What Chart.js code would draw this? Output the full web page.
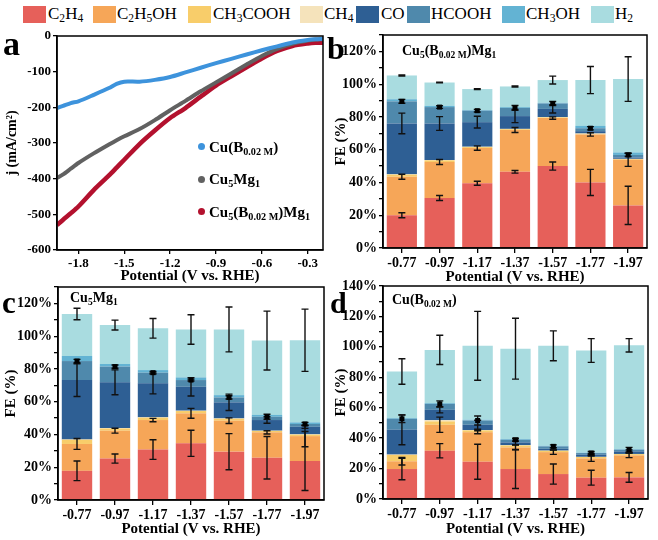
<!DOCTYPE html>
<html>
<head>
<meta charset="utf-8">
<title>FE and LSV</title>
<script src="https://cdn.jsdelivr.net/npm/chart.js@4.4.1/dist/chart.umd.min.js"></script>
<style>
body { margin: 0; background: #fff; }
#wrap { position: relative; width: 658px; height: 540px; overflow: hidden; font-family: "Liberation Serif", "Times New Roman", serif; color: #000; }
#wrap canvas { position: absolute; }
.txt { position: absolute; white-space: nowrap; line-height: 1; }
.txt sub { font-size: 0.68em; vertical-align: -0.28em; line-height: 0; }
.key { position: absolute; top: 6px; width: 23px; height: 17px; }
.dot { position: absolute; width: 7px; height: 7px; border-radius: 50%; }
</style>
</head>
<body>
<div id="wrap">
  <canvas id="cA" width="330" height="260" style="left:0;top:28px"></canvas>
  <canvas id="cB" width="328" height="260" style="left:330px;top:28px"></canvas>
  <canvas id="cC" width="330" height="260" style="left:0;top:280px"></canvas>
  <canvas id="cD" width="328" height="260" style="left:330px;top:280px"></canvas>

  <div class="txt" style="left:3px;top:27px;font-size:34px;font-weight:bold">a</div>
  <div class="txt" style="left:327px;top:32px;font-size:32px;font-weight:bold">b</div>
  <div class="txt" style="left:2px;top:287px;font-size:31px;font-weight:bold">c</div>
  <div class="txt" style="left:330px;top:288px;font-size:30px;font-weight:bold">d</div>

  <div class="txt" style="left:402px;top:44px;font-size:14px;font-weight:bold">Cu<sub>5</sub>(B<sub>0.02 M</sub>)Mg<sub>1</sub></div>
  <div class="txt" style="left:70px;top:291px;font-size:14px;font-weight:bold">Cu<sub>5</sub>Mg<sub>1</sub></div>
  <div class="txt" style="left:392px;top:293px;font-size:14px;font-weight:bold">Cu(B<sub>0.02 M</sub>)</div>

  <div class="dot" style="left:198px;top:143px;background:#3d93dc"></div>
  <div class="txt" style="left:209px;top:140px;font-size:15px;font-weight:bold">Cu(B<sub>0.02 M</sub>)</div>
  <div class="dot" style="left:198px;top:176px;background:#616161"></div>
  <div class="txt" style="left:209px;top:172px;font-size:15px;font-weight:bold">Cu<sub>5</sub>Mg<sub>1</sub></div>
  <div class="dot" style="left:198px;top:208px;background:#b3112e"></div>
  <div class="txt" style="left:209px;top:205px;font-size:15px;font-weight:bold">Cu<sub>5</sub>(B<sub>0.02 M</sub>)Mg<sub>1</sub></div>
</div>

<script>
// products, bottom to top of each stack
var species = ['C2H4', 'C2H5OH', 'CH3COOH', 'CH4', 'CO', 'HCOOH', 'CH3OH', 'H2'];
var speciesHtml = ['C<sub>2</sub>H<sub>4</sub>', 'C<sub>2</sub>H<sub>5</sub>OH', 'CH<sub>3</sub>COOH', 'CH<sub>4</sub>',
                   'CO', 'HCOOH', 'CH<sub>3</sub>OH', 'H<sub>2</sub>'];
var seriesColors = ['#e6605a', '#f6a658', '#f8cd6a', '#f5e3bb', '#2e5f94', '#4f89ac', '#63b3d3', '#a9dce0'];

var potentials = ['-0.77', '-0.97', '-1.17', '-1.37', '-1.57', '-1.77', '-1.97'];

// panel b : Cu5(B0.02M)Mg1, FE %
var bC2H4    = [20, 30.5, 39.5, 46.5, 50, 40, 26];
var bC2H5OH  = [23.5, 22, 21.5, 25.5, 29.3, 29.3, 27.8];
var bCH3COOH = [1.3, 1, 0.6, 0.5, 0.4, 0.4, 0.4];
var bCH4     = [0.2, 0.2, 0.2, 0.2, 0.2, 0.2, 0.2];
var bCO      = [31, 22.3, 15, 7.8, 5, 1.4, 0.8];
var bHCOOH   = [13.5, 10, 7, 5, 3.3, 1.8, 1.6];
var bCH3OH   = [1.3, 0.8, 0.4, 0.5, 0.4, 1.4, 1.5];
var bH2      = [14.5, 14.2, 12.8, 12.6, 13.9, 28, 44.8];
var bC2H4Err   = [1.5, 1.5, 1.2, 0.8, 2.5, 8, 11.7];
var bC2H5OHErr = [1.5, 1.5, 1.3, 1.5, 0.7, 1, 4];
var bCOErr     = [6.3, 4.2, 3.6, 4, 2.5, 0, 0];
var bHCOOHErr  = [1.2, 0.8, 0.8, 1.5, 1.2, 1, 1];
var bH2Err     = [0.3, 0.2, 0.3, 0.3, 2.4, 8.3, 13.6];

// panel c : Cu5Mg1
var cC2H4    = [17.8, 25.3, 30.8, 34.6, 29.5, 25.8, 23.8];
var cC2H5OH  = [16.4, 17, 18, 18.3, 18.9, 15.5, 15.2];
var cCH3COOH = [2.6, 1.4, 1.5, 1.4, 1.2, 0.8, 0.9];
var cCH4     = [0.2, 0.2, 0.2, 0.2, 0.2, 0.2, 0.2];
var cCO      = [36.2, 27.9, 20.7, 14.6, 9.8, 6.5, 4.6];
var cHCOOH   = [11.6, 9.6, 6.5, 4.1, 3, 2, 1.7];
var cCH3OH   = [3.1, 1.6, 1.6, 1.6, 1.4, 1.1, 1];
var cH2      = [25.6, 23.8, 25.5, 29.3, 40.1, 45.4, 50.1];
var cC2H4Err   = [6, 2.8, 6, 8, 11, 13, 18];
var cC2H5OHErr = [3.3, 1.5, 1, 3, 1.7, 1, 6.5];
var cCOErr     = [10, 7.6, 6.4, 5.6, 5, 2, 1];
var cHCOOHErr  = [1, 1, 0.8, 0.6, 1, 1.5, 1];
var cH2Err     = [3.5, 3, 6, 9, 13.7, 18, 19];

// panel d : Cu(B0.02M)
var dC2H4    = [19.7, 31.7, 24.5, 19.7, 16.4, 14, 14.2];
var dC2H5OH  = [5.1, 17.1, 19.4, 14.2, 14.4, 12.7, 14.5];
var dCH3COOH = [4.2, 2.2, 1.2, 1.3, 0.9, 0.9, 0.8];
var dCH4     = [0.2, 0.8, 0.2, 0.2, 0.1, 0.1, 0.1];
var dCO      = [16.3, 6.8, 3.5, 1.8, 1.2, 1.4, 1.7];
var dHCOOH   = [7.2, 3.9, 2.8, 1.7, 1.6, 1.1, 1.1];
var dCH3OH   = [0.5, 0.5, 0.5, 0.5, 0.4, 0.3, 0.4];
var dH2      = [30.6, 35, 48.6, 59.4, 65.7, 67.1, 68.2];
var dC2H4Err   = [7, 4.7, 11.5, 12.8, 6.6, 4.9, 3.2];
var dC2H5OHErr = [2.5, 5, 1, 1.5, 1.5, 2, 1.5];
var dCOErr     = [9.8, 2, 3, 1.5, 0.8, 0.8, 1];
var dHCOOHErr  = [2.5, 2, 3, 1, 1, 1, 1.5];
var dH2Err     = [8.4, 9.6, 22.6, 20, 9.8, 7.8, 4.4];

// panel a : LSV, j (mA/cm2) vs potential (V vs RHE)
var potA  = [-1.94, -1.9, -1.85, -1.8, -1.7, -1.6, -1.55, -1.5, -1.4, -1.3, -1.2, -1.1, -1.0, -0.9, -0.8, -0.7, -0.6, -0.5, -0.4, -0.3, -0.25, -0.2];
var jCuB  = [-202, -196, -188, -183, -165, -146, -134, -128, -128, -123, -115, -102, -89, -76, -64, -52, -40, -29, -18, -11, -9, -8];
var jCuMg = [-398, -388, -372, -356, -329, -304, -292, -281, -261, -236, -208, -182, -155, -130, -105, -80, -56, -36, -22, -13, -10, -9];
var jCuBMg = [-530, -515, -497, -478, -432, -391, -369, -347, -303, -265, -230, -202, -170, -139, -113, -88, -63, -42, -28, -21, -19, -19];
var xTicksA = [-1.8, -1.5, -1.2, -0.9, -0.6, -0.3];

Chart.defaults.font.family = '"Liberation Serif", "Times New Roman", serif';
Chart.defaults.color = '#000';

// top legend
var keyX = [23, 93, 188, 300, 356, 407, 502, 591];
var keyTextX = [48, 117, 213, 324, 381, 431, 526, 615];
var wrap = document.getElementById('wrap');
for (var i = 0; i < species.length; i++) {
    var sq = document.createElement('div');
    sq.className = 'key';
    sq.style.left = keyX[i] + 'px';
    sq.style.background = seriesColors[i];
    wrap.appendChild(sq);
    var t = document.createElement('div');
    t.className = 'txt';
    t.style.left = keyTextX[i] + 'px';
    t.style.top = '5px';
    t.style.fontSize = '17px';
    t.innerHTML = speciesHtml[i];
    wrap.appendChild(t);
}

// box round the plot area
var framePlugin = {
    id: 'frame',
    afterDraw: function(chart) {
        var a = chart.chartArea, ctx = chart.ctx;
        ctx.save();
        ctx.strokeStyle = '#000';
        ctx.lineWidth = 1.5;
        ctx.strokeRect(a.left, a.top, a.right - a.left, a.bottom - a.top);
        ctx.restore();
    }
};

// error bars at the top of each stacked segment
var errPlugin = {
    id: 'errbars',
    afterDatasetsDraw: function(chart) {
        var ctx = chart.ctx, ys = chart.scales.y;
        ctx.save();
        ctx.strokeStyle = '#111';
        ctx.fillStyle = '#000';
        ctx.lineWidth = 1.4;
        chart.data.datasets.forEach(function(ds, i) {
            if (!ds.errors) return;
            var meta = chart.getDatasetMeta(i);
            meta.data.forEach(function(bar, j) {
                var e = ds.errors[j];
                if (!e) return;
                var top = 0;
                for (var k = 0; k <= i; k++) top += chart.data.datasets[k].data[j];
                var x = bar.x;
                var y1 = ys.getPixelForValue(top + e), y2 = ys.getPixelForValue(top - e);
                ctx.beginPath();
                ctx.moveTo(x, y1); ctx.lineTo(x, y2);
                ctx.moveTo(x - 3.5, y1); ctx.lineTo(x + 3.5, y1);
                ctx.moveTo(x - 3.5, y2); ctx.lineTo(x + 3.5, y2);
                ctx.stroke();
                if (ds.marker) {
                    var yc = ys.getPixelForValue(top);
                    ctx.fillRect(x - 2.5, yc - 2.5, 5, 5);
                }
            });
        });
        ctx.restore();
    }
};

function fixSize(w, h) {
    return function(s) {
        if (w !== null) s.width = w;
        if (h !== null) s.height = h;
        s.paddingLeft = 0; s.paddingRight = 0; s.paddingTop = 0; s.paddingBottom = 0;
    };
}

function makeFE(id, segs, errs, yMax, box) {
    var datasets = species.map(function(name, k) {
        return {
            label: name,
            data: segs[k],
            backgroundColor: seriesColors[k],
            borderWidth: 0,
            barPercentage: 0.8,
            categoryPercentage: 1.0,
            errors: errs[k],
            marker: k === 5
        };
    });
    return new Chart(document.getElementById(id), {
        type: 'bar',
        data: { labels: potentials, datasets: datasets },
        options: {
            responsive: false,
            animation: false,
            devicePixelRatio: 1,
            layout: { padding: { left: 0, top: box.top, right: box.right, bottom: 0 } },
            plugins: { legend: { display: false }, tooltip: { enabled: false } },
            scales: {
                x: {
                    stacked: true,
                    offset: true,
                    grid: { drawOnChartArea: false, offset: false, tickLength: 5, color: '#000', lineWidth: 1.3 },
                    border: { color: '#000', width: 1.5 },
                    ticks: { font: { size: 14, weight: 'bold' }, padding: 2, maxRotation: 0 },
                    title: { display: true, text: 'Potential (V vs. RHE)', font: { size: 15, weight: 'bold' }, padding: { top: 0, bottom: 2 } },
                    afterFit: fixSize(null, box.xh)
                },
                y: {
                    stacked: true,
                    min: 0,
                    max: yMax,
                    grid: { drawOnChartArea: false, tickLength: 4, color: '#000', lineWidth: 1.3 },
                    border: { color: '#000', width: 1.5 },
                    ticks: {
                        stepSize: 10,
                        autoSkip: false,
                        padding: 2,
                        font: { size: 14, weight: 'bold' },
                        callback: function(v) { return v % 20 === 0 ? v + '%' : ''; }
                    },
                    title: { display: true, text: 'FE (%)', font: { size: 15, weight: 'bold' }, padding: { top: 2, bottom: 0 } },
                    afterFit: fixSize(box.yw, null)
                }
            }
        },
        plugins: [errPlugin, framePlugin]
    });
}

function pts(ys) {
    return potA.map(function(p, i) { return { x: p, y: ys[i] }; });
}

new Chart(document.getElementById('cA'), {
    type: 'line',
    data: {
        datasets: [
            { label: 'Cu(B0.02 M)', data: pts(jCuB), borderColor: '#3d93dc', borderWidth: 4, pointRadius: 0, tension: 0.25 },
            { label: 'Cu5Mg1', data: pts(jCuMg), borderColor: '#616161', borderWidth: 4, pointRadius: 0, tension: 0.25 },
            { label: 'Cu5(B0.02 M)Mg1', data: pts(jCuBMg), borderColor: '#b3112e', borderWidth: 4.5, pointRadius: 0, tension: 0.25 }
        ]
    },
    options: {
        responsive: false,
        animation: false,
        devicePixelRatio: 1,
        layout: { padding: { left: 0, top: 8, right: 7, bottom: 0 } },
        plugins: { legend: { display: false }, tooltip: { enabled: false } },
        scales: {
            x: {
                type: 'linear',
                min: -1.94,
                max: -0.2,
                afterBuildTicks: function(s) { s.ticks = xTicksA.map(function(v) { return { value: v }; }); },
                grid: { drawOnChartArea: false, tickLength: 4, color: '#000', lineWidth: 1.3 },
                border: { color: '#000', width: 1.5 },
                ticks: { font: { size: 13, weight: 'bold' }, padding: 2, maxRotation: 0, callback: function(v) { return v.toFixed(1); } },
                title: { display: true, text: 'Potential (V vs. RHE)', font: { size: 15, weight: 'bold' }, padding: { top: 0, bottom: 3 } },
                afterFit: fixSize(null, 38)
            },
            y: {
                min: -600,
                max: 0,
                grid: { drawOnChartArea: false, tickLength: 4, color: '#000', lineWidth: 1.3 },
                border: { color: '#000', width: 1.5 },
                ticks: { stepSize: 100, font: { size: 13, weight: 'bold' }, padding: 2, callback: function(v) { return String(v); } },
                title: { display: true, text: 'j (mA/cm\u00b2)', font: { size: 14, weight: 'bold' }, padding: { top: 4, bottom: 0 } },
                afterFit: fixSize(57, null)
            }
        }
    },
    plugins: [framePlugin]
});

makeFE('cB', [bC2H4, bC2H5OH, bCH3COOH, bCH4, bCO, bHCOOH, bCH3OH, bH2],
       [bC2H4Err, bC2H5OHErr, null, null, bCOErr, bHCOOHErr, null, bH2Err], 130,
       { top: 7, right: 11, xh: 40, yw: 53 });
makeFE('cC', [cC2H4, cC2H5OH, cCH3COOH, cCH4, cCO, cHCOOH, cCH3OH, cH2],
       [cC2H4Err, cC2H5OHErr, null, null, cCOErr, cHCOOHErr, null, cH2Err], 130,
       { top: 7, right: 6, xh: 40, yw: 58 });
makeFE('cD', [dC2H4, dC2H5OH, dCH3COOH, dCH4, dCO, dHCOOH, dCH3OH, dH2],
       [dC2H4Err, dC2H5OHErr, null, null, dCOErr, dHCOOHErr, null, dH2Err], 140,
       { top: 6, right: 10, xh: 41, yw: 53 });
</script>
</body>
</html>
